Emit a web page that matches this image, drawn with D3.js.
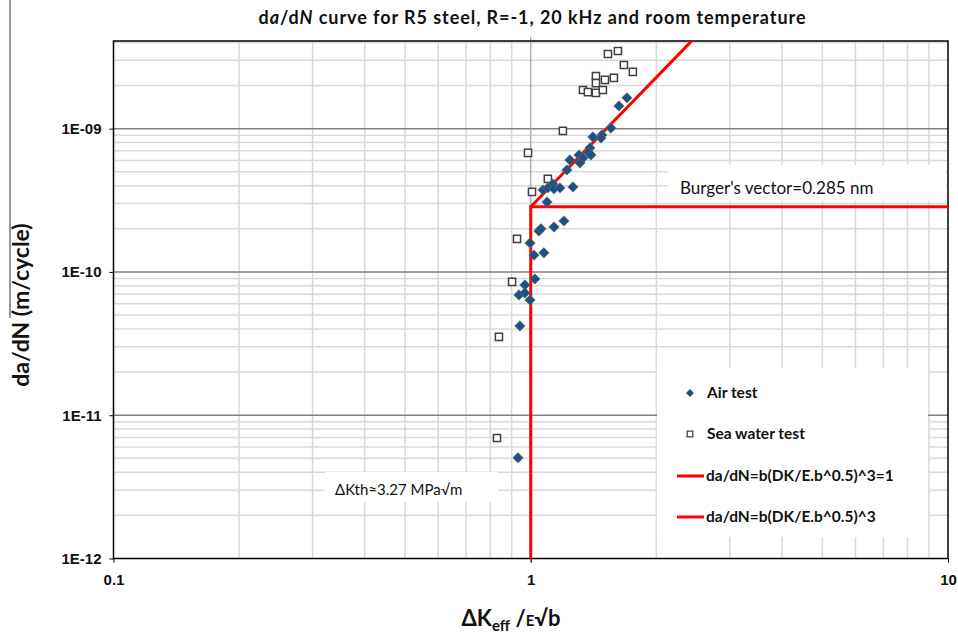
<!DOCTYPE html>
<html>
<head>
<meta charset="utf-8">
<script src="https://cdn.jsdelivr.net/npm/d3@7"></script>
<style>
  body { margin: 0; background: #fff; }
  svg { font-family: Lato, "Open Sans", sans-serif; }
</style>
</head>
<body>
<svg width="958" height="638"></svg>
<script>
// air test points (DK/E.sqrt(b), da/dN)
let airX = [1.70, 1.627, 1.556, 1.481, 1.473, 1.409, 1.386, 1.378, 1.394, 1.305, 1.334, 1.241,
  1.312, 1.221, 1.130, 1.070, 1.099, 1.137, 1.175, 1.262, 1.094, 1.046, 1.058, 1.137, 1.201,
  0.996, 1.018, 1.075, 1.023, 0.968, 0.937, 0.968, 0.996, 0.942, 0.932]
let airY = [1.64e-9, 1.44e-9, 1.01e-9, 9.04e-10, 8.61e-10, 8.75e-10, 7.33e-10, 6.77e-10, 6.55e-10,
  6.55e-10, 6.24e-10, 6.05e-10, 5.76e-10, 5.15e-10, 4.11e-10, 3.73e-10, 3.86e-10, 3.80e-10,
  3.86e-10, 3.92e-10, 3.08e-10, 1.93e-10, 2.0e-10, 2.06e-10, 2.27e-10, 1.59e-10, 1.31e-10,
  1.36e-10, 8.94e-11, 8.11e-11, 6.91e-11, 7.14e-11, 6.37e-11, 4.20e-11, 5.04e-12]

// sea water test points
let seaX = [1.531, 1.618, 1.672, 1.757, 1.433, 1.506, 1.582, 1.433, 1.334, 1.371, 1.433, 1.489,
  1.194, 0.985, 1.099, 1.007, 0.927, 0.902, 0.839, 0.830]
let seaY = [3.32e-9, 3.48e-9, 2.78e-9, 2.49e-9, 2.33e-9, 2.19e-9, 2.26e-9, 2.08e-9, 1.86e-9,
  1.80e-9, 1.775e-9, 1.86e-9, 9.64e-10, 6.77e-10, 4.46e-10, 3.62e-10, 1.70e-10, 8.52e-11,
  3.52e-11, 6.94e-12]

let burgers = 2.85e-10
let thresholdX = [1, 1, 10]
let thresholdY = [1e-12, burgers, burgers]
let lawX = [1, 1.5, 2, 2.5]

let yTicks = [1e-12, 1e-11, 1e-10, 1e-9]
let yTickLabels = ['1E-12', '1E-11', '1E-10', '1E-09']
let xTicks = [0.1, 1, 10]
let xTickLabels = ['0.1', '1', '10']

let legendLabels = ['Air test', 'Sea water test', 'da/dN=b(DK/E.b^0.5)^3=1', 'da/dN=b(DK/E.b^0.5)^3']

var svg = d3.select("svg")
let pLeft = 113.5, pRight = 948, pTop = 41, pBottom = 558.5

let x = d3.scaleLog().domain([0.1, 10]).range([pLeft, pRight])
let y = d3.scaleLog().domain([1e-12, 4.09e-9]).range([pBottom, pTop])

// minor grid values
let minorX = []
;[0.1, 1].forEach(d => { for (let k = 2; k <= 9; k++) minorX.push(d * k) })
let minorY = []
;[1e-12, 1e-11, 1e-10, 1e-9].forEach(d => { for (let k = 2; k <= 9; k++) if (d * k <= 4.09e-9) minorY.push(d * k) })

let grid = svg.append('g')
grid.selectAll('.mx').data(minorX).enter().append('line')
  .attr('x1', d => x(d)).attr('x2', d => x(d)).attr('y1', pTop).attr('y2', pBottom)
  .attr('stroke', '#d9d9d9').attr('stroke-width', 1.5)
grid.selectAll('.my').data(minorY).enter().append('line')
  .attr('x1', pLeft).attr('x2', pRight).attr('y1', d => y(d)).attr('y2', d => y(d))
  .attr('stroke', '#d9d9d9').attr('stroke-width', 1.5)
grid.selectAll('.My').data([1e-11, 1e-10, 1e-9]).enter().append('line')
  .attr('x1', pLeft).attr('x2', pRight).attr('y1', d => y(d)).attr('y2', d => y(d))
  .attr('stroke', '#808080').attr('stroke-width', 1.5)
grid.append('line')
  .attr('x1', x(1)).attr('x2', x(1)).attr('y1', pTop - 4).attr('y2', pBottom + 4)
  .attr('stroke', '#a0a0a0').attr('stroke-width', 1.2)

// white label boxes covering the grid
let boxes = [
  [668, 165, 278, 36],
  [325, 472, 173, 30],
  [657, 368, 271, 169]
]
svg.append('g').selectAll('rect').data(boxes).enter().append('rect')
  .attr('x', d => d[0]).attr('y', d => d[1]).attr('width', d => d[2]).attr('height', d => d[3])
  .attr('fill', '#fff')

// frame
svg.append('rect')
  .attr('x', pLeft).attr('y', pTop).attr('width', pRight - pLeft).attr('height', pBottom - pTop)
  .attr('fill', 'none').attr('stroke', '#000').attr('stroke-width', 1.5)

// axes
let yAxis = d3.axisLeft(y).tickValues(yTicks).tickFormat((d, i) => yTickLabels[i]).tickSize(4).tickPadding(8)
let gy = svg.append('g').attr('transform', `translate(${pLeft},0)`).call(yAxis)
gy.select('.domain').remove()
gy.selectAll('text').attr('font-size', 15).attr('font-weight', 'bold').attr('fill', '#111')

let xAxis = d3.axisBottom(x).tickValues(xTicks).tickFormat((d, i) => xTickLabels[i]).tickSize(4).tickPadding(12)
let gx = svg.append('g').attr('transform', `translate(0,${pBottom})`).call(xAxis)
gx.select('.domain').remove()
gx.selectAll('text').attr('font-size', 15).attr('font-weight', 'bold').attr('fill', '#111')

// red lines
let plot = svg.append('g')
svg.append('clipPath').attr('id', 'clip').append('rect')
  .attr('x', pLeft).attr('y', pTop).attr('width', pRight - pLeft).attr('height', pBottom - pTop)

let line = d3.line().x(d => x(d[0])).y(d => y(d[1]))
plot.append('path')
  .attr('d', line(thresholdX.map((d, i) => [d, thresholdY[i]])))
  .attr('fill', 'none').attr('stroke', '#ff0000').attr('stroke-width', 3)
plot.append('path')
  .attr('clip-path', 'url(#clip)')
  .attr('d', line(lawX.map(d => [d, burgers * d * d * d])))
  .attr('fill', 'none').attr('stroke', '#ff0000').attr('stroke-width', 3)

// points
let diamond = d3.symbol().type(d3.symbolDiamond2).size(70)
let square = d3.symbol().type(d3.symbolSquare2).size(65)

plot.selectAll('.sea').data(seaX).enter().append('path')
  .attr('d', square)
  .attr('transform', (d, i) => `translate(${x(d)},${y(seaY[i])})`)
  .attr('fill', '#fff').attr('stroke', '#404040').attr('stroke-width', 1.5)

plot.selectAll('.air').data(airX).enter().append('path')
  .attr('d', diamond)
  .attr('transform', (d, i) => `translate(${x(d)},${y(airY[i])})`)
  .attr('fill', '#1f4e89').attr('stroke', '#5d7f4a').attr('stroke-width', 0.6)

// annotations
svg.append('text').attr('x', 680).attr('y', 194)
  .attr('font-size', 17).attr('fill', '#111').text("Burger's vector=0.285 nm")
svg.append('text').attr('x', 335).attr('y', 495)
  .attr('font-size', 15).attr('fill', '#111').text('ΔKth≈3.27 MPa√m')

// legend
let leg = svg.append('g')
let legY = [393, 434, 476, 517]
leg.append('path').attr('d', d3.symbol().type(d3.symbolDiamond2).size(40))
  .attr('transform', `translate(690,${legY[0]})`).attr('fill', '#1f4e89')
leg.append('path').attr('d', d3.symbol().type(d3.symbolSquare2).size(40))
  .attr('transform', `translate(690,${legY[1]})`).attr('fill', '#fff')
  .attr('stroke', '#404040').attr('stroke-width', 1.3)
leg.selectAll('.ll').data([2, 3]).enter().append('line')
  .attr('x1', 677).attr('x2', 704).attr('y1', d => legY[d]).attr('y2', d => legY[d])
  .attr('stroke', '#ff0000').attr('stroke-width', 3)
leg.selectAll('text').data(legendLabels).enter().append('text')
  .attr('x', (d, i) => i < 2 ? 707 : 706).attr('y', (d, i) => legY[i])
  .attr('dy', '0.35em').attr('font-size', 15.5).attr('font-weight', 'bold').attr('fill', '#111')
  .text(d => d)

// title
let title = svg.append('text').attr('x', 532).attr('y', 24).attr('text-anchor', 'middle')
  .attr('font-size', 18).attr('font-weight', 'bold').attr('fill', '#111')
  .attr('textLength', 547).attr('lengthAdjust', 'spacing')
title.append('tspan').text('d')
title.append('tspan').attr('font-style', 'italic').text('a')
title.append('tspan').text('/d')
title.append('tspan').attr('font-style', 'italic').text('N')
title.append('tspan').text(' curve for R5 steel, R=-1, 20 kHz and room temperature')

// axis titles
let xt = svg.append('text').attr('x', 511).attr('y', 626).attr('text-anchor', 'middle')
  .attr('font-weight', 'bold').attr('fill', '#111').attr('font-size', 22)
xt.append('tspan').text('ΔK')
xt.append('tspan').attr('font-size', 15).attr('dy', 5).text('eff')
xt.append('tspan').attr('dy', -5).text(' /')
xt.append('tspan').attr('font-size', 15).text('E')
xt.append('tspan').text('√b')

svg.append('text').attr('transform', 'translate(29,305) rotate(-90)')
  .attr('text-anchor', 'middle').attr('font-size', 23).attr('font-weight', 'bold').attr('fill', '#111')
  .text('da/dN (m/cycle)')

// left edge line of the original figure
svg.append('line').attr('x1', 10).attr('x2', 10).attr('y1', 0).attr('y2', 318)
  .attr('stroke', '#333').attr('stroke-width', 1)
</script>
</body>
</html>
